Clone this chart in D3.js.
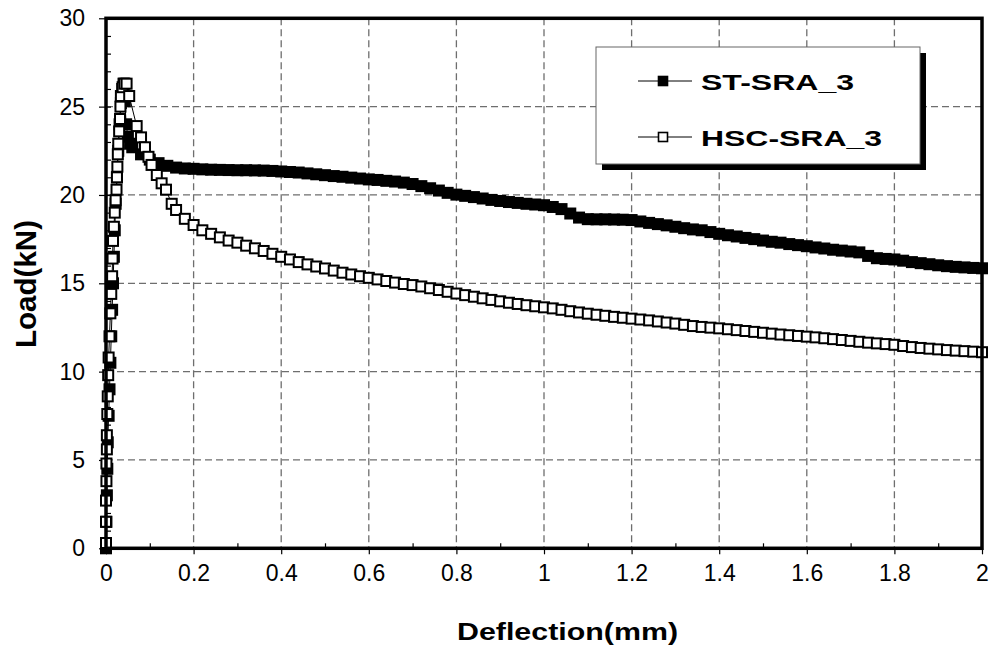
<!DOCTYPE html>
<html>
<head>
<meta charset="utf-8">
<script src="https://cdn.jsdelivr.net/npm/d3@7"></script>
<style>
  body { margin: 0; background: #fff; }
  svg { display: block; font-family: Arial, "Liberation Sans", sans-serif; }
</style>
</head>
<body>
<svg id="chart"></svg>
<script>
// ST-SRA_3 (filled squares)
var stDefl = [0.000,0.001,0.002,0.003,0.004,0.006,0.008,0.010,0.012,0.014,0.016,0.018,0.020,0.022,0.025,0.028,0.031,0.034,0.037,0.040,0.043,0.046,0.050,0.055,0.06,0.08,0.10,0.12,0.14,0.16,0.18,0.20,0.22,0.24,0.26,0.28,0.30,0.32,0.34,0.36,0.38,0.40,0.42,0.44,0.46,0.48,0.50,0.52,0.54,0.56,0.58,0.60,0.62,0.64,0.66,0.68,0.70,0.72,0.74,0.76,0.78,0.80,0.82,0.84,0.86,0.88,0.90,0.92,0.94,0.96,0.98,1.00,1.02,1.04,1.06,1.08,1.10,1.12,1.14,1.16,1.18,1.20,1.22,1.24,1.26,1.28,1.30,1.32,1.34,1.36,1.38,1.40,1.42,1.44,1.46,1.48,1.50,1.52,1.54,1.56,1.58,1.60,1.62,1.64,1.66,1.68,1.70,1.72,1.74,1.76,1.78,1.80,1.82,1.84,1.86,1.88,1.90,1.92,1.94,1.96,1.98,2.00]
var stLoad = [0.0,1.5,3.0,4.5,6.0,7.5,9.0,10.5,12.0,13.5,15.0,16.5,18.0,19.5,21.0,22.5,24.0,25.2,26.0,26.3,25.3,24.0,23.3,22.9,22.7,22.3,22.0,21.8,21.65,21.55,21.5,21.48,21.45,21.43,21.42,21.41,21.4,21.4,21.39,21.38,21.36,21.33,21.3,21.27,21.22,21.17,21.12,21.07,21.03,20.98,20.93,20.88,20.85,20.8,20.76,20.7,20.62,20.5,20.38,20.25,20.12,20.02,19.95,19.88,19.8,19.72,19.66,19.6,19.55,19.5,19.46,19.42,19.32,19.2,18.95,18.72,18.63,18.62,18.62,18.61,18.6,18.58,18.5,18.42,18.35,18.28,18.2,18.12,18.05,18.0,17.9,17.8,17.72,17.65,17.57,17.5,17.42,17.35,17.3,17.22,17.16,17.1,17.03,16.97,16.9,16.85,16.8,16.75,16.55,16.42,16.38,16.35,16.28,16.2,16.14,16.08,16.02,15.97,15.93,15.9,15.87,15.85]

// HSC-SRA_3 (open squares)
var hscDefl = [0.000,0.000,0.000,0.001,0.001,0.002,0.002,0.003,0.004,0.005,0.006,0.008,0.010,0.012,0.014,0.015,0.016,0.018,0.020,0.022,0.024,0.025,0.026,0.027,0.028,0.030,0.032,0.033,0.034,0.038,0.042,0.047,0.053,0.070,0.080,0.089,0.097,0.104,0.116,0.127,0.137,0.15,0.16,0.18,0.20,0.22,0.24,0.26,0.28,0.30,0.32,0.34,0.36,0.38,0.40,0.42,0.44,0.46,0.48,0.50,0.52,0.54,0.56,0.58,0.60,0.62,0.64,0.66,0.68,0.70,0.72,0.74,0.76,0.78,0.80,0.82,0.84,0.86,0.88,0.90,0.92,0.94,0.96,0.98,1.00,1.02,1.04,1.06,1.08,1.10,1.12,1.14,1.16,1.18,1.20,1.22,1.24,1.26,1.28,1.30,1.32,1.34,1.36,1.38,1.40,1.42,1.44,1.46,1.48,1.50,1.52,1.54,1.56,1.58,1.60,1.62,1.64,1.66,1.68,1.70,1.72,1.74,1.76,1.78,1.80,1.82,1.84,1.86,1.88,1.90,1.92,1.94,1.96,1.98,2.00]
var hscLoad = [0.3,1.5,2.7,3.8,4.8,5.6,6.4,7.6,8.6,9.8,10.8,12.0,13.3,14.4,15.4,16.4,17.4,18.2,19.0,19.7,20.3,21.0,21.6,22.3,22.9,23.6,24.3,25.0,25.6,26.1,26.3,26.3,25.6,23.9,23.26,22.7,22.16,21.7,21.13,20.66,20.3,19.5,19.15,18.65,18.3,18.0,17.8,17.6,17.42,17.3,17.13,16.98,16.83,16.67,16.5,16.35,16.2,16.07,15.95,15.84,15.72,15.6,15.5,15.4,15.31,15.22,15.13,15.04,14.96,14.9,14.82,14.72,14.62,14.52,14.42,14.33,14.24,14.15,14.06,13.98,13.9,13.83,13.76,13.7,13.64,13.58,13.5,13.42,13.35,13.28,13.22,13.16,13.1,13.05,13.0,12.95,12.9,12.84,12.78,12.72,12.65,12.58,12.53,12.49,12.45,12.4,12.35,12.3,12.25,12.2,12.15,12.1,12.06,12.02,11.98,11.94,11.89,11.84,11.79,11.74,11.69,11.64,11.6,11.56,11.52,11.45,11.39,11.34,11.3,11.26,11.22,11.19,11.16,11.13,11.1]

var xTicks = [0, 0.2, 0.4, 0.6, 0.8, 1, 1.2, 1.4, 1.6, 1.8, 2]
var xTickLabels = ['0', '0.2', '0.4', '0.6', '0.8', '1', '1.2', '1.4', '1.6', '1.8', '2']
var yTicks = [0, 5, 10, 15, 20, 25, 30]
var seriesNames = ['ST-SRA_3', 'HSC-SRA_3']
var xTitle = 'Deflection(mm)'
var yTitle = 'Load(kN)'

var width = 996
var height = 659
var svg = d3.select('#chart').attr('width', width).attr('height', height)

var x = d3.scaleLinear().domain([0, 2]).range([106, 982])
var y = d3.scaleLinear().domain([0, 30]).range([548.3, 18.3])

// grid lines (dashed)
var grid = svg.append('g')
grid.selectAll('.gx').data(xTicks.slice(1, -1)).enter().append('line')
  .attr('x1', function (d) { return x(d) }).attr('x2', function (d) { return x(d) })
  .attr('y1', y(30)).attr('y2', y(0))
grid.selectAll('.gy').data(yTicks.slice(1, -1)).enter().append('line')
  .attr('x1', x(0)).attr('x2', x(2))
  .attr('y1', function (d) { return y(d) }).attr('y2', function (d) { return y(d) })
grid.selectAll('line').attr('stroke', '#6e6e6e').attr('stroke-width', 1.3).attr('stroke-dasharray', '7,4')

// minor ticks inside
var xMinor = d3.axisBottom(x).tickValues(d3.range(0.1, 2, 0.2)).tickSize(-5).tickFormat('')
var yMinor = d3.axisLeft(y).tickValues(d3.range(1, 30, 1)).tickSize(-5).tickFormat('')
svg.append('g').attr('transform', 'translate(0,' + y(0) + ')').call(xMinor)
svg.append('g').attr('transform', 'translate(' + x(0) + ',0)').call(yMinor)

// major axes
var xAxis = d3.axisBottom(x).tickValues(xTicks).tickSize(6).tickPadding(10)
  .tickFormat(function (d, i) { return xTickLabels[i] })
var yAxis = d3.axisLeft(y).tickValues(yTicks).tickSize(7).tickPadding(14)
var gx = svg.append('g').attr('transform', 'translate(0,' + y(0) + ')').call(xAxis)
var gy = svg.append('g').attr('transform', 'translate(' + x(0) + ',0)').call(yAxis)
svg.selectAll('.domain').remove()
svg.selectAll('.tick line').attr('stroke', '#000').attr('stroke-width', 1.2)
gx.selectAll('text').attr('font-size', 23).attr('fill', '#000')
  .attr('font-family', 'Arial, "Liberation Sans", sans-serif')
gy.selectAll('text').attr('font-size', 23).attr('fill', '#000')
  .attr('font-family', 'Arial, "Liberation Sans", sans-serif')

// data
var stData = stDefl.map(function (d, i) { return [d, stLoad[i]] })
var hscData = hscDefl.map(function (d, i) { return [d, hscLoad[i]] })
var line = d3.line().x(function (d) { return x(d[0]) }).y(function (d) { return y(d[1]) })
var ms = 10

function drawSeries (data, fill) {
  var g = svg.append('g')
  g.append('path').datum(data).attr('d', line)
    .attr('fill', 'none').attr('stroke', '#000').attr('stroke-width', 1)
  g.selectAll('rect').data(data).enter().append('rect')
    .attr('x', function (d) { return x(d[0]) - ms / 2 })
    .attr('y', function (d) { return y(d[1]) - ms / 2 })
    .attr('width', ms).attr('height', ms)
    .attr('fill', fill).attr('stroke', '#000').attr('stroke-width', 2)
}
drawSeries(stData, '#000')
drawSeries(hscData, '#fff')

// plot frame
svg.append('rect')
  .attr('x', x(0)).attr('y', y(30))
  .attr('width', x(2) - x(0)).attr('height', y(0) - y(30))
  .attr('fill', 'none').attr('stroke', '#000').attr('stroke-width', 3.5)

// axis titles
svg.append('text').text(xTitle)
  .attr('x', 457).attr('y', 640)
  .attr('textLength', 221).attr('lengthAdjust', 'spacingAndGlyphs')
  .attr('font-size', 24).attr('font-weight', 'bold')
svg.append('text').text(yTitle)
  .attr('transform', 'translate(36,348) rotate(-90)')
  .attr('textLength', 128).attr('lengthAdjust', 'spacingAndGlyphs')
  .attr('font-size', 30).attr('font-weight', 'bold')

// legend
var legend = svg.append('g')
legend.append('rect').attr('x', 602).attr('y', 53).attr('width', 324).attr('height', 117).attr('fill', '#000')
legend.append('rect').attr('x', 596).attr('y', 47).attr('width', 324).attr('height', 117)
  .attr('fill', '#fff').attr('stroke', '#666').attr('stroke-width', 1)
var rowY = [81, 137]
var rowFill = ['#000', '#fff']
var rowLen = [153, 181]
var lms = 9
seriesNames.forEach(function (name, i) {
  legend.append('line').attr('x1', 638).attr('x2', 692).attr('y1', rowY[i]).attr('y2', rowY[i])
    .attr('stroke', '#000').attr('stroke-width', 1)
  legend.append('rect').attr('x', 663 - lms / 2).attr('y', rowY[i] - lms / 2)
    .attr('width', lms).attr('height', lms)
    .attr('fill', rowFill[i]).attr('stroke', '#000').attr('stroke-width', 1.6)
  legend.append('text').text(name)
    .attr('x', 701).attr('y', rowY[i] + 2.5 + 0.28 * 22)
    .attr('textLength', rowLen[i]).attr('lengthAdjust', 'spacingAndGlyphs')
    .attr('font-size', 22).attr('font-weight', 'bold')
})
</script>
</body>
</html>
